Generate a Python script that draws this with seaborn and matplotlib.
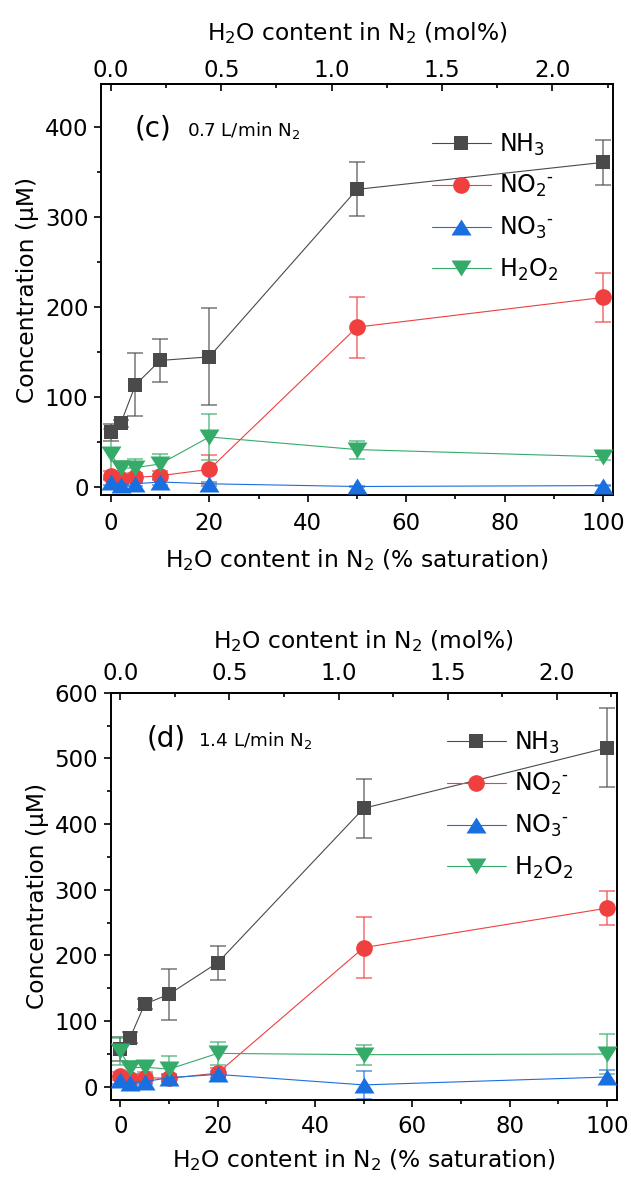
import matplotlib
matplotlib.use("Agg")
import matplotlib.pyplot as plt
import seaborn as sns
from matplotlib.path import Path
from matplotlib.ticker import MultipleLocator, AutoMinorLocator, FormatStrFormatter

# H2O content of the N2 feed (% of saturation) and the same axis in mol%
saturation = [0, 2, 5, 10, 20, 50, 100]
MOL_PER_SAT = 0.0223  # mol% of H2O per % saturation
mol_major = [0.0, 0.5, 1.0, 1.5, 2.0]
mol_minor = [0.25, 0.75, 1.25, 1.75, 2.25]

species = ["NH$_3$", "NO$_2$$^{\u2010}$", "NO$_3$$^{\u2010}$", "H$_2$O$_2$"]
colors = ["#4a4a4a", "#ef3f3f", "#1a6fe0", "#35ab6a"]

# slightly flattened triangles (wider than tall)
tri_up = Path([(-1, -0.8), (1, -0.8), (0, 0.8), (-1, -0.8)], closed=True)
tri_down = Path([(-1, 0.8), (1, 0.8), (0, -0.8), (-1, 0.8)], closed=True)
markers = ["s", "o", tri_up, tri_down]
marker_sizes = [10, 12, 14.4, 14.4]

# (c) 0.7 L/min N2 -- concentrations (µM) and standard deviations
c_nh3 = [61, 71, 114, 141, 145, 331, 361]
c_nh3_err = [9, 4, 35, 24, 54, 30, 25]
c_no2 = [13, 9, 11, 13, 20, 178, 211]
c_no2_err = [5, 4, 5, 5, 16, 34, 27]
c_no3 = [6, 3, 4, 6, 4, 1, 2]
c_no3_err = [3, 2, 2, 3, 2, 1, 1]
c_h2o2 = [37, 21, 22, 26, 56, 42, 34]
c_h2o2_err = [28, 8, 9, 11, 26, 10, 4]

# (d) 1.4 L/min N2
d_nh3 = [58, 75, 126, 141, 189, 424, 516]
d_nh3_err = [18, 8, 8, 39, 26, 45, 60]
d_no2 = [17, 12, 14, 13, 21, 212, 272]
d_no2_err = [6, 5, 5, 5, 8, 47, 26]
d_no3 = [10, 6, 8, 14, 19, 3, 15]
d_no3_err = [5, 4, 4, 5, 5, 21, 10]
d_h2o2 = [54, 29, 30, 27, 51, 49, 50]
d_h2o2_err = [20, 10, 8, 20, 17, 15, 30]

sns.set_theme(style="ticks")
plt.rcParams["font.family"] = ["DejaVu Sans"]
plt.rcParams["mathtext.fontset"] = "dejavusans"
plt.rcParams["axes.linewidth"] = 1.4
for key in ("text.color", "axes.labelcolor", "xtick.color", "ytick.color",
            "xtick.labelcolor", "ytick.labelcolor", "axes.edgecolor"):
    plt.rcParams[key] = "black"

TICK_FS = 16.5
LABEL_FS = 16.8
LEGEND_FS = 17

fig = plt.figure(figsize=(6.31, 11.77), dpi=100)
ax_c = fig.add_axes([0.1601, 0.5794, 0.8114, 0.3492])
ax_d = fig.add_axes([0.1754, 0.0654, 0.8019, 0.3461])


def draw_panel(ax, series, errors, tag, flow, ylim, ystep, tag_pos, flow_pos, leg_anchor,
               bottom_pads, top_pads):
    for name, vals, err, col, mk, ms in zip(species, series, errors, colors, markers, marker_sizes):
        ax.errorbar(saturation, vals, yerr=err, fmt="none", ecolor=col, alpha=0.75,
                    elinewidth=1.1, capsize=5.5, capthick=1.1, zorder=2)
        sns.lineplot(x=saturation, y=vals, color=col, marker=mk, markersize=ms,
                     markeredgewidth=0, linewidth=0.8, label=name, ax=ax, zorder=3)

    ax.set_xlim(-2, 102)
    ax.set_ylim(*ylim)
    ax.xaxis.set_major_locator(MultipleLocator(20))
    ax.xaxis.set_minor_locator(MultipleLocator(10))
    ax.yaxis.set_major_locator(MultipleLocator(ystep))
    ax.yaxis.set_minor_locator(AutoMinorLocator(2))
    ax.tick_params(which="major", direction="out", length=5, width=1.2, labelsize=TICK_FS,
                   pad=4, top=False, right=False)
    ax.tick_params(axis="x", which="major", pad=bottom_pads[0])
    ax.tick_params(which="minor", direction="out", length=2.8, width=1.2, top=False, right=False)
    for sp in ax.spines.values():
        sp.set_linewidth(1.4)

    ax.set_xlabel("H$_2$O content in N$_2$ (% saturation)", fontsize=LABEL_FS,
                  labelpad=bottom_pads[1])
    ax.set_ylabel("Concentration (μM)", fontsize=LABEL_FS, labelpad=4)

    top = ax.secondary_xaxis("top", functions=(lambda s: s * MOL_PER_SAT,
                                                lambda m: m / MOL_PER_SAT))
    top.set_xticks(mol_major)
    top.set_xticks(mol_minor, minor=True)
    top.xaxis.set_major_formatter(FormatStrFormatter("%.1f"))
    top.tick_params(which="major", direction="in", length=5, width=1.2, labelsize=TICK_FS,
                    pad=top_pads[0])
    top.tick_params(which="minor", direction="in", length=2.8, width=1.2)
    top.set_xlabel("H$_2$O content in N$_2$ (mol%)", fontsize=LABEL_FS, labelpad=top_pads[1])

    ax.text(*tag_pos, tag, transform=ax.transAxes, fontsize=20, va="baseline", ha="left")
    ax.text(*flow_pos, flow, transform=ax.transAxes, fontsize=13.2, va="baseline", ha="left")

    ax.legend(frameon=False, loc="upper left", bbox_to_anchor=leg_anchor, fontsize=LEGEND_FS,
              handlelength=2.5, handletextpad=0.35, labelspacing=0.66,
              borderpad=0, borderaxespad=0)


draw_panel(ax_c,
           [c_nh3, c_no2, c_no3, c_h2o2],
           [c_nh3_err, c_no2_err, c_no3_err, c_h2o2_err],
           "(c)", "0.7 L/min N$_2$", (-8.5, 448), 100,
           (0.066, 0.873), (0.168, 0.873), (0.646, 0.885),
           bottom_pads=(7, 9), top_pads=(1.2, 14))

draw_panel(ax_d,
           [d_nh3, d_no2, d_no3, d_h2o2],
           [d_nh3_err, d_no2_err, d_no3_err, d_h2o2_err],
           "(d)", "1.4 L/min N$_2$", (-20, 600), 100,
           (0.072, 0.868), (0.1725, 0.868), (0.664, 0.91),
           bottom_pads=(6, 6.5), top_pads=(5.5, 10))

fig.savefig("out.png", dpi=100)
